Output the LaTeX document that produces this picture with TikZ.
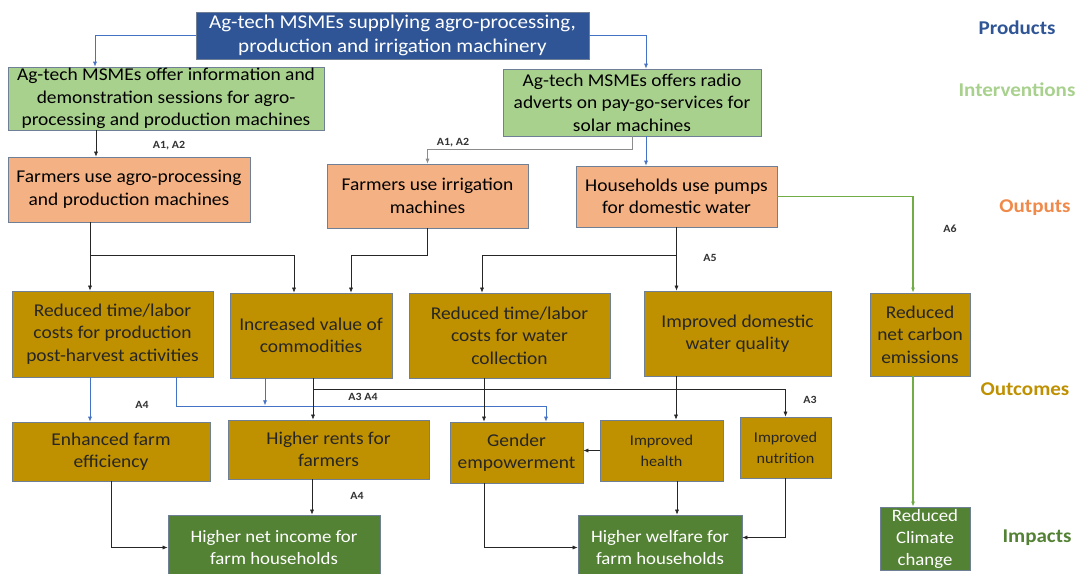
\documentclass[tikz,border=0pt]{standalone}
\usepackage{fontspec}
\setmainfont[FakeStretch=1.08]{Carlito}
\usetikzlibrary{arrows.meta}
\definecolor{prodblue}{HTML}{2F5597}
\definecolor{intgreen}{HTML}{A9D18E}
\definecolor{outorange}{HTML}{F4B183}
\definecolor{ocgold}{HTML}{BF9000}
\definecolor{impgreen}{HTML}{548235}
\definecolor{edgecol}{HTML}{6F7F95}
\definecolor{arrblue}{HTML}{4472C4}
\definecolor{arrgreen}{HTML}{70AD47}
\definecolor{arrgrey}{HTML}{8C8C8C}
\definecolor{lblblue}{HTML}{2F5597}
\definecolor{lblgreen}{HTML}{A9D18E}
\definecolor{lblorange}{HTML}{F08A4B}
\definecolor{lblgold}{HTML}{BF9000}
\definecolor{lblimp}{HTML}{548235}
\begin{document}
\begin{tikzpicture}[x=1pt,y=-1pt,
 box/.style={draw=edgecol, line width=0.7pt, inner sep=0pt, align=center, font=\fontsize{18}{22.5}\selectfont},
 prodbox/.style={box, fill=prodblue, text=white, font=\fontsize{19.5}{24}\selectfont},
 intbox/.style={box, fill=intgreen},
 outbox/.style={box, fill=outorange},
 ocbox/.style={box, fill=ocgold, text=black!85},
 smallbox/.style={ocbox, font=\fontsize{15}{21}\selectfont},
 impbox/.style={box, fill=impgreen, text=white, font=\fontsize{17.4}{22}\selectfont},
 tip/.style={-{Latex[length=5pt,width=4pt]}},
 blk/.style={draw=black!85, line width=0.6pt, tip},
 blu/.style={draw=arrblue, line width=0.7pt, tip},
 gry/.style={draw=arrgrey, line width=0.7pt, tip},
 grn/.style={draw=arrgreen, line width=1.6pt, tip},
 alabel/.style={font=\fontsize{11}{12}\selectfont\bfseries, text=black!80, inner sep=0pt},
 level/.style={font=\fontsize{19.5}{22}\selectfont\bfseries, inner sep=0pt}
]
\useasboundingbox[fill=white] (0,0) rectangle (1079,573);

% column coordinates
\coordinate (c90) at (90,0);
\coordinate (c95) at (95,0);
\coordinate (c96) at (96,0);
\coordinate (c176) at (176,0);
\coordinate (c265) at (265,0);
\coordinate (c294) at (294,0);
\coordinate (c312) at (312,0);
\coordinate (c313) at (313,0);
\coordinate (c351) at (351,0);
\coordinate (c482) at (482,0);
\coordinate (c484) at (484,0);
\coordinate (c546) at (546,0);
\coordinate (c646) at (646,0);
\coordinate (c676) at (676,0);
\coordinate (c677) at (677,0);
\coordinate (c913) at (913,0);

% Products
\node[prodbox, minimum width=393, minimum height=47] (prod) at (392.5,35.5)
  {Ag-tech MSMEs supplying agro-processing,\\production and irrigation machinery};

% Interventions
\node[intbox, minimum width=316, minimum height=63] (int1) at (166,98.5)
  {Ag-tech MSMEs offer information and\\demonstration sessions for agro-\\processing and production machines};
\node[intbox, minimum width=258, minimum height=67] (int2) at (632,102.5)
  {Ag-tech MSMEs offers radio\\adverts on pay-go-services for\\solar machines};

% Outputs
\node[outbox, minimum width=242, minimum height=65] (out1) at (129,189.5)
  {Farmers use agro-processing\\and production machines};
\node[outbox, minimum width=201, minimum height=64] (out2) at (427.5,196)
  {Farmers use irrigation\\machines};
\node[outbox, minimum width=201, minimum height=61] (out3) at (676.5,196.5)
  {Households use pumps\\for domestic water};

% Outcomes row 1
\node[ocbox, minimum width=201, minimum height=86] (oc1) at (112.5,334)
  {Reduced time/labor\\costs for production\\post-harvest activities};
\node[ocbox, minimum width=162, minimum height=85] (oc2) at (311,335.5)
  {Increased value of\\commodities};
\node[ocbox, minimum width=201, minimum height=85] (oc3) at (509.5,335.5)
  {Reduced time/labor\\costs for water\\collection};
\node[ocbox, minimum width=187, minimum height=85] (oc4) at (737.5,333.5)
  {Improved domestic\\water quality};
\node[ocbox, minimum width=100, minimum height=83] (oc5) at (920,334.5)
  {Reduced\\net carbon\\emissions};

% Outcomes row 2
\node[ocbox, minimum width=198, minimum height=59] (r1) at (111,451.5)
  {Enhanced farm\\efficiency};
\node[ocbox, minimum width=201, minimum height=59] (r2) at (328.5,449.5)
  {Higher rents for\\farmers};
\node[ocbox, minimum width=133, minimum height=61] (r3) at (516.5,452.5)
  {Gender\\empowerment};
\node[smallbox, minimum width=123, minimum height=61] (r4) at (661.5,450.5)
  {Improved\\health};
\node[smallbox, minimum width=91, minimum height=61] (r5) at (785.5,447.5)
  {Improved\\nutrition};

% Impacts
\node[impbox, minimum width=212, minimum height=65] (i1) at (274,547.5)
  {Higher net income for\\farm households};
\node[impbox, minimum width=164, minimum height=65] (i2) at (660,547.5)
  {Higher welfare for\\farm households};
\node[impbox, minimum width=90, minimum height=63] (i3) at (925,538.5)
  {Reduced\\Climate\\change};

% Level labels
\node[level, text=lblblue] (lp) at (1017,28) {Products};
\node[level, text=lblgreen] (li) at (1017,90) {Interventions};
\node[level, text=lblorange] (lo) at (1035,208) {Outputs};
\node[level, text=lblgold] (lc) at (1025,389) {Outcomes};
\node[level, text=lblimp] (lm) at (1037,538) {Impacts};

% Connectors
\draw[blu] (prod.west) -| (int1.north -| c95);
\draw[blu] (prod.east) -| (int2.north -| c646);
\draw[blk] (int1.south -| c96) -- (out1.north -| c96);
\draw[gry] (int2.south) -- ++(0,13) -| (out2.north);
\draw[blu] (int2.south -| c646) -- (out3.north -| c646);

\draw[blk] (out1.south -| c90) -- (oc1.north -| c90);
\draw[blk] (out1.south -| c90) -- ++(0,33) -| (oc2.north -| c294);
\draw[blk] (out2.south) -- ++(0,27) -| (oc2.north -| c351);
\draw[blk] (out3.south) -- ++(0,28) -| (oc3.north -| c482);
\draw[blk] (out3.south) -- (oc4.north -| out3.south);
\draw[grn] (out3.east) -| (oc5.north -| c913);
\draw[grn] (oc5.south -| c913) -- (i3.north -| c913);

\draw[blu] (oc1.south -| c90) -- (r1.north -| c90);
\draw[blu] (oc1.south -| c176) -- ++(0,29) -| (r3.north -| c546);
\draw[blu] (oc2.south -| c265) -- ++(0,27);
\draw[blk] (oc2.south -| c313) -- (r2.north -| c313);
\draw[blk] (oc2.south -| c313) -- ++(0,11) -| (r5.north);
\draw[blk] (oc3.south -| c484) -- (r3.north -| c484);
\draw[blk] (oc4.south -| c676) -- (r4.north -| c676);
\draw[blk] (r4.west) -- (r3.east |- r4.west);

\draw[blk] (r1.south) |- (i1.west);
\draw[blk] (r2.south -| c312) -- (i1.north -| c312);
\draw[blk] (r3.south -| c484) |- (i2.west);
\draw[blk] (r4.south -| c677) -- (i2.north -| c677);
\draw[blk] (r5.south) |- ([yshift=10pt]i2.east);

% A labels
\node[alabel] (a1) at (169,146) {A1, A2};
\node[alabel] (a2) at (453,143) {A1, A2};
\node[alabel] (a6) at (950,229) {A6};
\node[alabel] (a5) at (710,258) {A5};
\node[alabel] (a4a) at (142,405) {A4};
\node[alabel] (a34) at (363,397) {A3 A4};
\node[alabel] (a3) at (810,400) {A3};
\node[alabel] (a4b) at (357,496) {A4};
\end{tikzpicture}
\end{document}
